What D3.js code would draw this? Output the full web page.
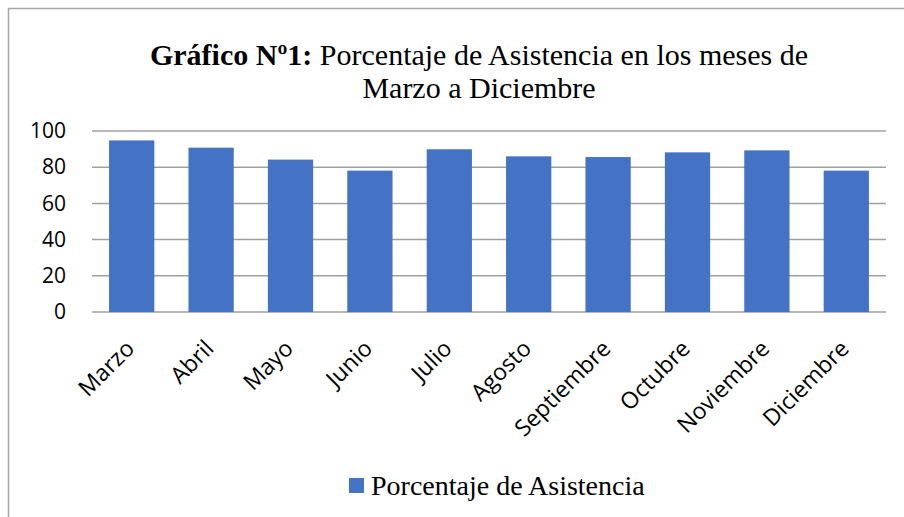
<!DOCTYPE html>
<html>
<head>
<meta charset="utf-8">
<script src="https://cdn.jsdelivr.net/npm/d3@7"></script>
<style>
  body { margin: 0; background: #fff; }
</style>
</head>
<body>
<div id="chart"></div>
<script>
const months = ["Marzo", "Abril", "Mayo", "Junio", "Julio", "Agosto", "Septiembre", "Octubre", "Noviembre", "Diciembre"];
const asistencia = [94.8, 90.8, 84.2, 78.1, 89.9, 86.0, 85.6, 88.2, 89.3, 78.1];
const yTicks = [0, 20, 40, 60, 80, 100];
const seriesName = "Porcentaje de Asistencia";

const W = 904, H = 517;
const plot = {left: 92, right: 886, top: 131, bottom: 312};

const svg = d3.select("#chart")
    .append("svg")
    .attr("width", W)
    .attr("height", H);

// chart frame (runs past the right and bottom edges)
svg.append("rect")
    .attr("x", 8.5)
    .attr("y", 8.5)
    .attr("width", 1000)
    .attr("height", 1000)
    .attr("fill", "#fff")
    .attr("stroke", "#a6a6a6")
    .attr("stroke-width", 1.5);

const xScale = d3.scaleBand()
    .domain(months)
    .range([plot.left, plot.right])
    .paddingInner(0.43)
    .paddingOuter(0.215);

const yScale = d3.scaleLinear()
    .domain([0, 100])
    .range([plot.bottom, plot.top]);

// gridlines
svg.append("g")
    .selectAll("line")
    .data(yTicks)
    .enter().append("line")
    .attr("x1", plot.left)
    .attr("x2", plot.right)
    .attr("y1", d => yScale(d))
    .attr("y2", d => yScale(d))
    .attr("stroke", "#a0a0a0")
    .attr("stroke-width", 1.5);

// bars
svg.append("g")
    .selectAll("rect")
    .data(months)
    .enter().append("rect")
    .attr("x", d => xScale(d))
    .attr("width", xScale.bandwidth())
    .attr("y", (d, i) => yScale(asistencia[i]))
    .attr("height", (d, i) => yScale(0) - yScale(asistencia[i]))
    .attr("fill", "#4472c4");

// y axis labels
const yAxis = d3.axisLeft(yScale)
    .tickValues(yTicks)
    .tickSize(0)
    .tickPadding(26);
const yg = svg.append("g")
    .attr("transform", `translate(${plot.left},0)`)
    .call(yAxis);
yg.select(".domain").remove();
yg.selectAll("text")
    .attr("font-family", "'Open Sans', sans-serif")
    .attr("font-size", 21)
    .attr("fill", "#000");

// x axis labels
const xAxis = d3.axisBottom(xScale).tickSize(0).tickPadding(0);
const xg = svg.append("g")
    .attr("transform", `translate(0,${plot.bottom})`)
    .call(xAxis);
xg.select(".domain").remove();
xg.selectAll("text")
    .attr("font-family", "'Open Sans', sans-serif")
    .attr("font-size", 23)
    .attr("fill", "#000")
    .attr("text-anchor", "end")
    .attr("dy", 0)
    .attr("transform", "translate(4,38) rotate(-45)");

// title
const title = svg.append("text")
    .attr("text-anchor", "middle")
    .attr("font-family", "'Liberation Serif', serif")
    .attr("font-size", 30)
    .attr("fill", "#000");
const l1 = title.append("tspan").attr("x", 479).attr("y", 65);
l1.append("tspan").attr("font-weight", "bold").text("Gráfico Nº1:");
l1.append("tspan").text(" Porcentaje de Asistencia en los meses de");
title.append("tspan").attr("x", 479).attr("y", 98).text("Marzo a Diciembre");

// legend
const legend = svg.append("g").attr("transform", "translate(349,478)");
legend.append("rect")
    .attr("width", 15)
    .attr("height", 15)
    .attr("fill", "#4472c4");
legend.append("text")
    .attr("x", 22)
    .attr("y", 17)
    .attr("font-family", "'Liberation Serif', serif")
    .attr("font-size", 28)
    .attr("fill", "#000")
    .text(seriesName);
</script>
</body>
</html>
